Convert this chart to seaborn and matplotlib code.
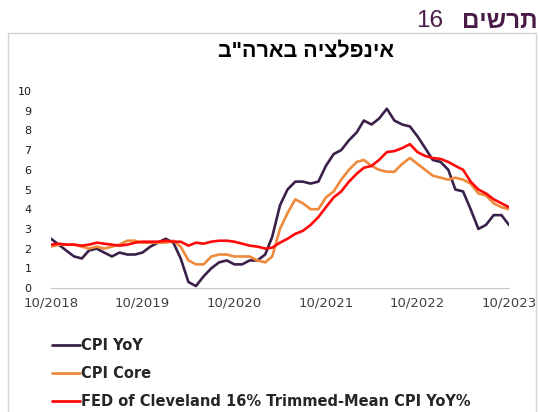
import seaborn as sns
import matplotlib
matplotlib.use('Agg')
import matplotlib.pyplot as plt
import pandas as pd
from matplotlib.patches import Rectangle

# monthly data, 10/2018 .. 10/2023
MONTHS = pd.date_range('2018-10-01', '2023-10-01', freq='MS')

CPI_YOY = [2.5, 2.2, 1.9,
           1.6, 1.5, 1.9, 2.0, 1.8, 1.6, 1.8, 1.7, 1.7, 1.8, 2.1, 2.3,
           2.5, 2.3, 1.5, 0.3, 0.1, 0.6, 1.0, 1.3, 1.4, 1.2, 1.2, 1.4,
           1.4, 1.7, 2.6, 4.2, 5.0, 5.4, 5.4, 5.3, 5.4, 6.2, 6.8, 7.0,
           7.5, 7.9, 8.5, 8.3, 8.6, 9.1, 8.5, 8.3, 8.2, 7.7, 7.1, 6.5,
           6.4, 6.0, 5.0, 4.9, 4.0, 3.0, 3.2, 3.7, 3.7, 3.2]

CPI_CORE = [2.1, 2.2, 2.2,
            2.2, 2.1, 2.0, 2.1, 2.0, 2.1, 2.2, 2.4, 2.4, 2.3, 2.3, 2.3,
            2.3, 2.4, 2.1, 1.4, 1.2, 1.2, 1.6, 1.7, 1.7, 1.6, 1.6, 1.6,
            1.4, 1.3, 1.6, 3.0, 3.8, 4.5, 4.3, 4.0, 4.0, 4.6, 4.9, 5.5,
            6.0, 6.4, 6.5, 6.2, 6.0, 5.9, 5.9, 6.3, 6.6, 6.3, 6.0, 5.7,
            5.6, 5.5, 5.6, 5.5, 5.3, 4.8, 4.7, 4.3, 4.1, 4.0]

TRIMMED = [2.2, 2.25, 2.2,
           2.2, 2.15, 2.2, 2.3, 2.25, 2.2, 2.15, 2.2, 2.3, 2.35, 2.35, 2.35,
           2.4, 2.35, 2.35, 2.15, 2.3, 2.25, 2.35, 2.4, 2.4, 2.35, 2.25, 2.15,
           2.1, 2.0, 2.05, 2.3, 2.5, 2.75, 2.9, 3.2, 3.6, 4.1, 4.6, 4.9,
           5.4, 5.8, 6.1, 6.2, 6.5, 6.9, 6.95, 7.1, 7.3, 6.9, 6.7, 6.6,
           6.55, 6.4, 6.2, 6.0, 5.4, 5.0, 4.8, 4.5, 4.3, 4.1]

SERIES = ['CPI YoY', 'CPI Core', 'FED of Cleveland 16% Trimmed-Mean CPI YoY%']
COLORS = ['#3b2149', '#ef8a3c', '#ff0a0a']

Y_TICKS = list(range(0, 11))
X_TICKS = pd.date_range('2018-10-01', '2023-10-01', freq='12MS')
X_LABELS = [d.strftime('%m/%Y') for d in X_TICKS]

TITLE = 'אינפלציה בארה"ב'
HEADER_WORD = 'תרשים'
HEADER_NUM = '16'

sns.set_theme(style="white")
plt.rcParams['font.family'] = ['Liberation Sans', 'DejaVu Sans']

fig = plt.figure(figsize=(5.39, 4.12), dpi=100)
ax = fig.add_axes([51 / 539, 1 - 288 / 412, 458 / 539, 197 / 412])

df = pd.DataFrame({'month': MONTHS, SERIES[0]: CPI_YOY, SERIES[1]: CPI_CORE, SERIES[2]: TRIMMED})
long = df.melt(id_vars='month', var_name='series', value_name='value')
sns.lineplot(data=long, x='month', y='value', hue='series', hue_order=SERIES,
             palette=COLORS, linewidth=1.9, ax=ax, legend=False)

ax.set_xlim(MONTHS[0], MONTHS[-1])
ax.set_ylim(0, 10)
ax.set_yticks(Y_TICKS)
ax.set_yticklabels([str(t) for t in Y_TICKS], fontsize=8, color='#1a1a1a',
                   family='DejaVu Sans')
ax.set_xticks(X_TICKS)
ax.set_xticklabels(X_LABELS, fontsize=9.5, color='#404040', family='DejaVu Sans')
ax.tick_params(axis='y', length=0, pad=14)
ax.tick_params(axis='x', length=4, width=0.8, color='#b0b0b0', direction='out', pad=2)
ax.set_xlabel('')
ax.set_ylabel('')
for side in ['top', 'right', 'left']:
    ax.spines[side].set_visible(False)
ax.spines['bottom'].set_color('#c8c8c8')
ax.spines['bottom'].set_linewidth(0.8)

# frame around the chart
fig.patches.append(Rectangle((8 / 539, -0.01), 528 / 539, 1 - 33 / 412 + 0.01,
                             transform=fig.transFigure, fill=False,
                             edgecolor='#d4d4d4', linewidth=1))

# hebrew text drawn in visual order
fig.text(306 / 539, 1 - 52 / 412, TITLE[::-1], ha='center', va='center',
         fontsize=15.5, fontweight='bold', color='black')
fig.text(537 / 539, 1 - 21 / 412, HEADER_WORD[::-1], ha='right', va='center',
         fontsize=17.5, fontweight='bold', color='#4a1a48')
fig.text(443 / 539, 1 - 21 / 412, HEADER_NUM, ha='right', va='center',
         fontsize=17.5, color='#4a1a48')

handles = [plt.Line2D([], [], color=c, linewidth=2) for c in COLORS]
fig.legend(handles, SERIES, loc='upper left', bbox_to_anchor=(52 / 539, 1 - 338 / 412),
           frameon=False, borderpad=0, borderaxespad=0, handlelength=1.9,
           handletextpad=0.1, labelspacing=0.9,
           prop={'weight': 'bold', 'size': 10.5, 'family': 'DejaVu Sans'})

plt.savefig('out.png', dpi=100)
